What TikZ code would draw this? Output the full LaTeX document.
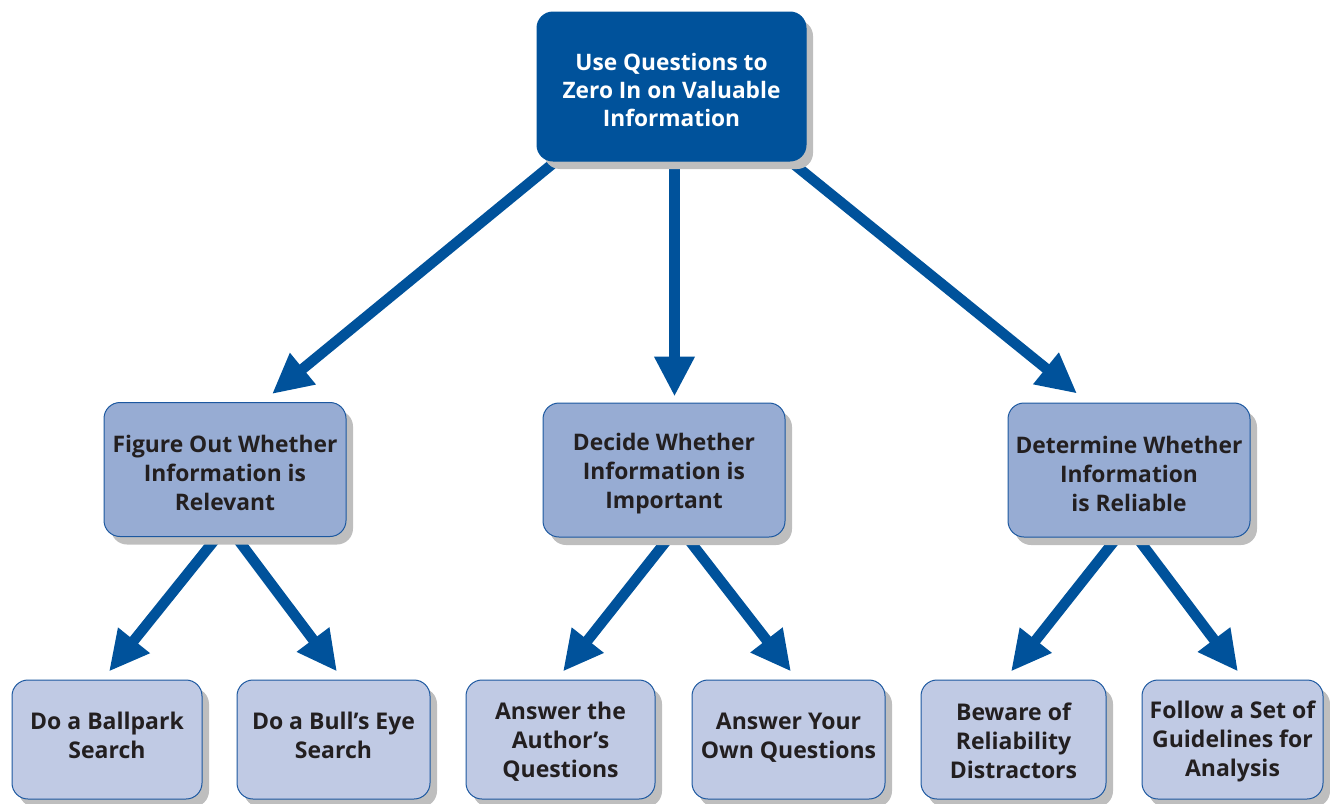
\documentclass[tikz,border=0pt]{standalone}
\usepackage{fontspec}
\setmainfont{Open Sans}
\usetikzlibrary{arrows.meta,calc,shadows,backgrounds}

\definecolor{navy}{RGB}{0,82,155}
\definecolor{midfill}{RGB}{151,172,211}
\definecolor{lowfill}{RGB}{192,202,228}
\definecolor{edgeblue}{RGB}{28,88,160}
\definecolor{shade}{RGB}{190,190,190}
\definecolor{ink}{RGB}{35,31,32}

% invisible struts that set where a text block sits in its box
\newcommand{\padtop}[1]{\rule{0pt}{#1}}
\newcommand{\padbot}[1]{\rule[-#1]{0pt}{0pt}}

\tikzset{
  box/.style={rounded corners=16pt, draw=edgeblue, line width=1pt,
    align=center, inner sep=0pt, text=ink,
    font=\bfseries\fontsize{22.8}{29}\selectfont,
    drop shadow={shadow xshift=7pt, shadow yshift=-8pt, fill=shade, opacity=1}},
  topbox/.style={box, fill=navy, draw=navy, text=white,
    font=\bfseries\fontsize{22.7}{28}\selectfont,
    minimum width=269pt, minimum height=149pt},
  midbox/.style={box, fill=midfill, minimum width=242pt, minimum height=134pt},
  lowbox/.style={box, fill=lowfill, minimum height=119pt,
    font=\bfseries\fontsize{23}{29}\selectfont},
  arr/.style={draw=navy, line width=10.5pt,
    -{Triangle[width=38pt,length=40pt]}}
}

\begin{document}
\begin{tikzpicture}[x=1pt,y=-1pt]
\useasboundingbox (0,0) rectangle (1330,803);

% root
\node[topbox] (root) at (671.5,86.5) {\padtop{25pt}Use Questions to\\Zero In on Valuable\\Information};

% second level
\node[midbox] (rel) at (225,469.5) {\padtop{25pt}Figure Out Whether\\Information is\\Relevant};
\node[midbox] (imp) at (664,470) {\padtop{25pt}Decide Whether\\Information is\\Important};
\node[midbox] (rely) at (1129,470) {\padtop{25pt}Determine Whether\\Information\\is Reliable};

% third level
\node[lowbox, minimum width=190pt] (ball) at (107,739.5) {Do a Ballpark\\Search\padbot{8pt}};
\node[lowbox, minimum width=193pt] (bull) at (333.5,739.5) {Do a Bull’s Eye\\Search\padbot{8pt}};
\node[lowbox, minimum width=189pt] (auth) at (560.5,739.5) {\padtop{21pt}Answer the\\Author’s\\Questions};
\node[lowbox, minimum width=193pt] (own) at (788.5,739.5) {Answer Your\\Own Questions\padbot{8pt}};
\node[lowbox, minimum width=185pt] (dist) at (1013.5,739.5) {\padtop{21pt}Beware of\\Reliability\\Distractors};
\node[lowbox, minimum width=181pt] (guide) at (1232.5,739.5) {\padtop{21pt}Follow a Set of\\Guidelines for\\Analysis};

% connectors, tucked behind the boxes
\begin{scope}[on background layer]
\draw[arr] ($(root.south)+(-118.5,2)$) -- ($(rel.north)+(47,-8)$);
\draw[arr] ($(root.south)+(3,2)$) -- ($(imp.north)+(10.5,-6)$);
\draw[arr] ($(root.south)+(121.5,2)$) -- ($(rely.north)+(-52,-9)$);

\draw[arr] ($(rel.south)+(-8,0)$) -- ($(ball.north)+(2,-8)$);
\draw[arr] ($(rel.south)+(11,0)$) -- ($(bull.north)+(3.5,-8)$);

\draw[arr] ($(imp.south)+(5,0)$) -- ($(auth.north)+(2.5,-8)$);
\draw[arr] ($(imp.south)+(23,0)$) -- ($(own.north)+(2.5,-8)$);

\draw[arr] ($(rely.south)+(-12,0)$) -- ($(dist.north)+(-2.5,-8)$);
\draw[arr] ($(rely.south)+(8,0)$) -- ($(guide.north)+(5.5,-8)$);
\end{scope}
\end{tikzpicture}
\end{document}
